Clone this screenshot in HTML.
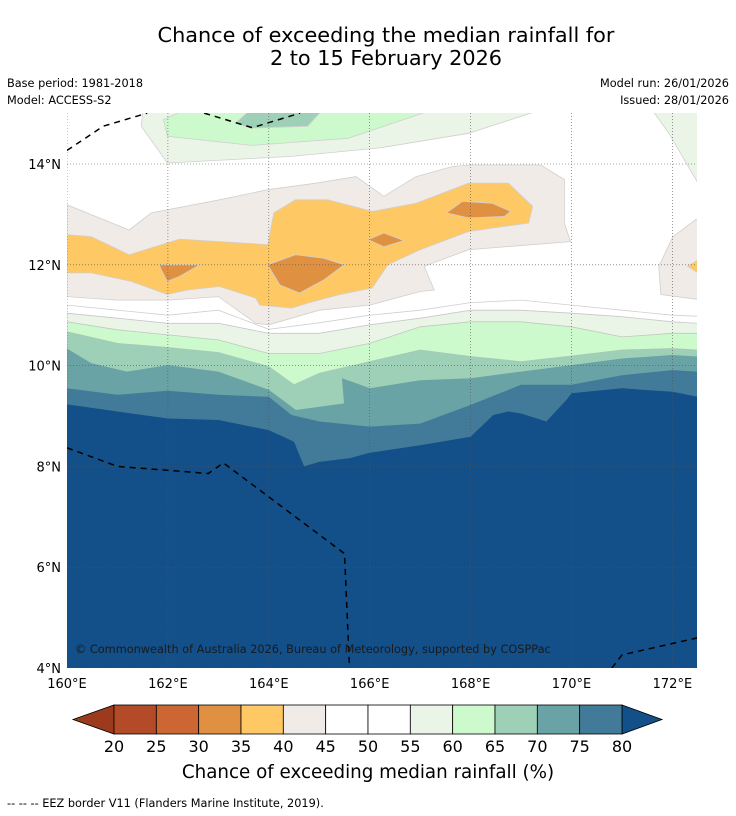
<!DOCTYPE html>
<html><head><meta charset="utf-8">
<style>
html,body{margin:0;padding:0;background:#fff;}
svg{display:block;font-family:"DejaVu Sans","Liberation Sans",sans-serif;}
</style></head>
<body>
<svg id="chart" width="736" height="816" viewBox="0 0 736 816" xmlns="http://www.w3.org/2000/svg">
<text x="386" y="42" text-anchor="middle" font-size="20.8" fill="#000">Chance of exceeding the median rainfall for</text>
<text x="386" y="65" text-anchor="middle" font-size="20.8" fill="#000">2 to 15 February 2026</text>
<text x="7" y="87" font-size="11.3">Base period: 1981-2018</text>
<text x="7" y="104" font-size="11.3">Model: ACCESS-S2</text>
<text x="729" y="87" font-size="11.3" text-anchor="end">Model run: 26/01/2026</text>
<text x="729" y="104" font-size="11.3" text-anchor="end">Issued: 28/01/2026</text>
<defs><clipPath id="mapclip"><rect x="67" y="113" width="630" height="555"/></clipPath></defs>
<g id="map" clip-path="url(#mapclip)"></g>
<g id="overlay"></g>
<g id="cbar"></g>
<text x="368" y="778" text-anchor="middle" font-size="18.3">Chance of exceeding median rainfall (%)</text>
<text x="7" y="807" font-size="11.3">--  --  -- EEZ border V11 (Flanders Marine Institute, 2019).</text>
</svg>
<script>
// ---- data (lon, lat) ----
const lonTicks = [160,162,164,166,168,170,172];
const latTicks = [4,6,8,10,12,14];
const cbarLevels = [20,25,30,35,40,45,50,55,60,65,70,75,80];
const cbarColors = ["#b34a28","#cc6633","#df9040","#fec864","#f0ebe6","#ffffff","#ffffff","#eaf5e8","#ccfacc","#9dd0b6","#6aa3a6","#427a9a"];
const south50 = [[160,11.2],[161,11.1],[162,11.0],[163,11.1],[164,10.72],[165,10.85],[166,11.0],[167,11.1],[168,11.25],[169,11.3],[170,11.2],[171,11.1],[172,11.0],[172.5,10.98]];
const south55 = [[160,11.04],[161,10.94],[162,10.84],[163,10.84],[164,10.64],[165,10.64],[166,10.81],[167,10.94],[168,11.1],[169,11.1],[170,11.04],[171,10.97],[172,10.87],[172.5,10.84]];
const south60 = [[160,10.87],[161,10.71],[162,10.61],[163,10.51],[164,10.24],[165,10.24],[166,10.44],[167,10.77],[168,10.87],[169,10.87],[170,10.77],[171,10.57],[172,10.64],[172.5,10.64]];
const south65 = [[160,10.67],[161,10.44],[162,10.36],[163,10.26],[164,9.98],[164.5,9.62],[165,9.85],[166,10.08],[167,10.31],[168,10.18],[169,10.08],[170,10.19],[171,10.31],[172,10.34],[172.5,10.31]];
const south70 = [[160,10.34],[160.48,10.05],[161.19,9.88],[162,10.01],[163,9.88],[164,9.52],[164.54,9.12],[165.49,9.25],[165.45,9.75],[165.73,9.65],[166,9.55],[167,9.71],[168,9.75],[169,9.88],[170,10.01],[171,10.14],[172,10.21],[172.5,10.18]];
const south75 = [[160,9.55],[161,9.42],[162,9.5],[163,9.42],[164,9.38],[164.45,9.02],[165,8.89],[166,8.79],[167,8.85],[168,9.22],[169,9.62],[170,9.62],[171,9.81],[172,9.91],[172.5,9.88]];
const south80 = [[160,9.23],[161,9.09],[162,8.95],[163,8.92],[164,8.72],[164.5,8.49],[164.7,8.0],[165,8.09],[165.6,8.16],[166,8.27],[167,8.42],[168,8.59],[168.45,9.02],[168.75,9.09],[169,9.05],[169.5,8.89],[169.9,9.32],[170,9.45],[171,9.55],[172,9.48],[172.5,9.38]];
const beige40 = [[160,13.19],[161.23,12.69],[161.67,13.03],[163.02,13.29],[163.98,13.49],[164.93,13.62],[165.73,13.75],[166.28,13.36],[166.92,13.75],[167.64,13.95],[168,13.98],[169.39,13.98],[169.86,13.69],[169.86,12.83],[169.98,12.46],[167.96,12.3],[167.08,11.97],[167.28,11.5],[167,11.47],[166,11.2],[165,11.1],[164,10.81],[163.74,10.84],[163,11.37],[162,11.3],[161,11.3],[160,11.37]];
const beigeRight = [[172.6,12.95],[172.47,12.9],[172.01,12.56],[171.73,11.97],[171.77,11.41],[172.6,11.3]];
const orange35 = [[160,12.6],[160.48,12.56],[161.23,12.2],[162.23,12.51],[163.98,12.4],[164.1,13.03],[164.53,13.29],[165.17,13.29],[166.05,13.06],[166.92,13.22],[167.96,13.62],[168.75,13.62],[169.23,13.16],[169.15,12.83],[167.96,12.66],[167,12.3],[166.36,12.0],[166.05,11.54],[165.41,11.41],[164.77,11.24],[164.45,11.14],[163.82,11.2],[163.74,11.34],[163.02,11.57],[162.39,11.5],[161.99,11.41],[161.27,11.67],[160.48,11.84],[160,11.84]];
const orangeRight = [[172.6,12.15],[172.3,11.97],[172.6,11.78]];
const dark30a = [[161.83,12.0],[162.63,12.0],[162.23,11.77],[161.99,11.67],[161.87,11.9]];
const dark30b = [[163.98,12.0],[164.53,12.2],[165.09,12.13],[165.49,12.0],[165.09,11.7],[164.61,11.44],[164.22,11.6]];
const dark30c = [[165.97,12.5],[166.28,12.63],[166.68,12.48],[166.28,12.36]];
const dark30d = [[167.52,13.03],[167.84,13.26],[168.43,13.22],[168.79,13.06],[168.67,12.96],[167.96,12.93]];
const pale55top = [[161.51,15.1],[161.47,14.75],[161.99,14.02],[164.45,14.15],[166.2,14.32],[167.96,14.61],[169.47,15.1]];
const green60top = [[162.39,15.1],[161.91,14.88],[161.99,14.55],[163.66,14.37],[165.57,14.51],[167.32,15.1]];
const teal65top = [[163.34,14.81],[163.66,14.71],[164.77,14.75],[165.09,15.1],[163.66,15.1]];
const paleTopRight = [[171.58,15.1],[171.93,14.61],[172.6,13.46],[172.6,15.1]];
const eezNorth = [[160,14.27],[160.72,14.75],[161.59,15.01]];
const eezNorth2 = [[162.72,15.01],[163.67,14.72],[164.62,15.01]];
const eezSouth = [[160,8.37],[161,8.0],[162.8,7.86],[163.1,8.07],[165.5,6.27],[165.6,4.0]];
const eezSE = [[170.8,4.0],[171,4.26],[172.5,4.6]];

// ---- axes ----
const X = lon => 67 + (lon-160)*50.45;
const Y = lat => 668 - (lat-4)*50.4;
const NS = "http://www.w3.org/2000/svg";
const map = document.getElementById('map');
const overlay = document.getElementById('overlay');
const cbar = document.getElementById('cbar');
function mk(tag, attrs, parent){const e=document.createElementNS(NS,tag);for(const k in attrs)e.setAttribute(k,attrs[k]);parent.appendChild(e);return e;}
const pts = arr => arr.map(p=>X(p[0]).toFixed(1)+','+Y(p[1]).toFixed(1)).join(' ');

mk('rect',{x:67,y:113,width:630,height:555,fill:'#fff'},map);
const southBands=[[south50,'#ffffff','band-50-55','#d0d0d0'],[south55,'#eaf5e8','band-55-60','#c8c8c8'],[south60,'#ccfacc','band-60-65','#c0c8c0'],[south65,'#9dd0b6','band-65-70','#a8c8b8'],[south70,'#6aa3a6','band-70-75','none'],[south75,'#427a9a','band-75-80','none'],[south80,'#134f88','band-above-80','none']];
southBands.forEach(b=>{
  const arr=b[0].concat([[172.8,3.8],[159.8,3.8]]);
  const p=mk('polygon',{points:pts(arr),fill:b[1],stroke:b[3],'stroke-width':0.8},map);
  
  
});
const regions=[[beige40,'#f0ebe6','band-40-45'],[beigeRight,'#f0ebe6','band-40-45-east'],[orange35,'#fec864','band-35-40'],[orangeRight,'#fec864','band-35-40-east'],[dark30a,'#df9040','band-30-35-a'],[dark30b,'#df9040','band-30-35-b'],[dark30c,'#df9040','band-30-35-c'],[dark30d,'#df9040','band-30-35-d'],[pale55top,'#eaf5e8','band-55-60-north'],[green60top,'#ccfacc','band-60-65-north'],[teal65top,'#9dd0b6','band-65-70-north'],[paleTopRight,'#eaf5e8','band-55-60-northeast']];
regions.forEach(r=>{
  const p=mk('polygon',{points:pts(r[0]),fill:r[1],stroke:'#d0d0d0','stroke-width':0.8},map);
  
  
});
lonTicks.forEach(l=>{
  const g=mk('line',{x1:X(l),x2:X(l),y1:113,y2:668,stroke:'#555','stroke-width':0.6,'stroke-dasharray':'1,2'},map);
  
  
});
latTicks.forEach(l=>{
  const g=mk('line',{x1:67,x2:697,y1:Y(l),y2:Y(l),stroke:'#555','stroke-width':0.6,'stroke-dasharray':'1,2'},map);
  
  
});
[eezNorth,eezNorth2,eezSouth,eezSE].forEach(e=>{
  const l=mk('polyline',{points:pts(e),fill:'none',stroke:'#000','stroke-width':1.5,'stroke-dasharray':'6,5'},map);
  
  
});
const cp=mk('text',{x:75,y:653,'font-size':11.3,fill:'#1a1a1a'},map);
cp.textContent='© Commonwealth of Australia 2026, Bureau of Meteorology, supported by COSPPac';


lonTicks.forEach(l=>{
  const t=mk('text',{x:X(l),y:688,'text-anchor':'middle','font-size':13},overlay);
  t.textContent=l+'°E';
  
  
});
latTicks.forEach(l=>{
  const t=mk('text',{x:61,y:Y(l)+5,'text-anchor':'end','font-size':13},overlay);
  t.textContent=l+'°N';
  
  
});
const cx0=114, cw=508/cbarColors.length;
const lt=mk('polygon',{points:'73,719.5 114,705 114,734',fill:'#9c3a1e',stroke:'#000','stroke-width':0.8},cbar);


const rt=mk('polygon',{points:'622,705 662,719.5 622,734',fill:'#134f88',stroke:'#000','stroke-width':0.8},cbar);


cbarColors.forEach((c,i)=>{
  const r=mk('rect',{x:cx0+i*cw,y:705,width:cw,height:29,fill:c,stroke:'#000','stroke-width':0.8},cbar);
  
  
});
cbarLevels.forEach((v,i)=>{
  const t=mk('text',{x:cx0+i*cw,y:752,'text-anchor':'middle','font-size':16},cbar);
  t.textContent=v;
  
  
});
</script>
</body></html>
